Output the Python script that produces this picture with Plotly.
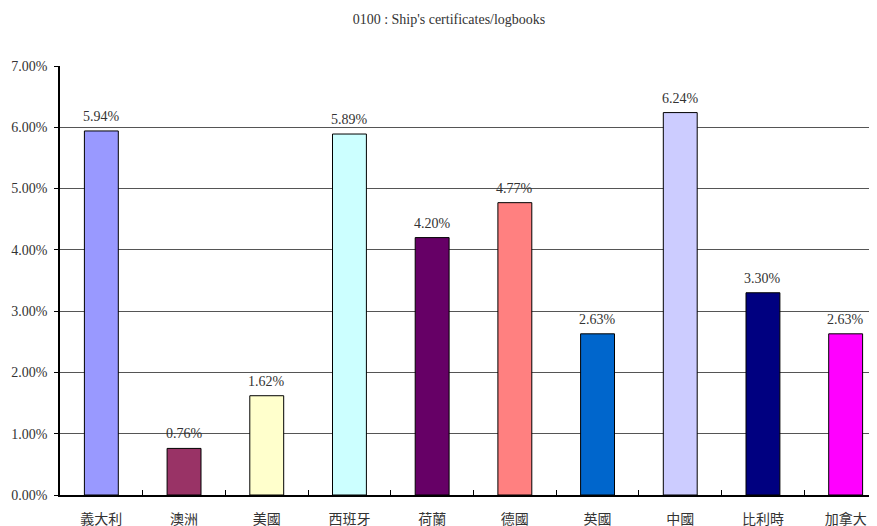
import plotly.graph_objects as go

categories = ["義大利", "澳洲", "美國", "西班牙", "荷蘭", "德國", "英國", "中國", "比利時", "加拿大"]
values = [5.94, 0.76, 1.62, 5.89, 4.20, 4.77, 2.63, 6.24, 3.30, 2.63]
colors = ["#9999FF", "#993366", "#FFFFCC", "#CCFFFF", "#660066", "#FF8080",
          "#0066CC", "#CCCCFF", "#000080", "#FF00FF"]
y_ticks = [0, 1, 2, 3, 4, 5, 6, 7]
y_tick_labels = ["%.2f%%" % v for v in y_ticks]
title = "0100 : Ship's certificates/logbooks"

FONT = "Liberation Serif, Noto Sans CJK TC, serif"

# page body has an 8px default margin, so the figure is sized to fit inside the window
W, H = 869, 518

fig = go.Figure(go.Bar(
    x=categories,
    y=values,
    marker=dict(color=colors, line=dict(color="black", width=1)),
    width=0.41,
    hoverinfo="x+y",
))

for c, v in zip(categories, values):
    fig.add_annotation(
        x=c, y=v, text="%.2f%%" % v, showarrow=False,
        xanchor="center", yanchor="bottom", yshift=5,
        font=dict(family=FONT, size=14, color="#333333"),
    )

fig.update_layout(
    width=W, height=H,
    margin=dict(l=52, r=0, t=58, b=31, autoexpand=False),
    paper_bgcolor="white", plot_bgcolor="white",
    showlegend=False,
    title=dict(text=title, x=441 / W, xref="container", y=1 - 11 / H, yref="container",
               xanchor="center", yanchor="middle",
               font=dict(family=FONT, size=14, color="#333333")),
    font=dict(family=FONT, size=14, color="#333333"),
    xaxis=dict(
        type="category",
        range=[-0.5, 9.5 - 10 / 82.7],
        showline=True, linecolor="black", linewidth=1.5,
        ticks="inside", tickson="boundaries", ticklen=5, tickcolor="black",
        showgrid=False,
        tickfont=dict(family=FONT, size=14, color="#333333"),
        ticklabelstandoff=10,
    ),
    yaxis=dict(
        range=[0, 7],
        tickvals=y_ticks, ticktext=y_tick_labels,
        showline=True, linecolor="black", linewidth=1.5,
        ticks="outside", ticklen=4, tickcolor="black",
        showgrid=True, gridcolor="#555555", gridwidth=1,
        zeroline=False,
        tickfont=dict(family=FONT, size=14, color="#333333"),
        ticklabelstandoff=4,
    ),
)

fig.write_html("out.html")
